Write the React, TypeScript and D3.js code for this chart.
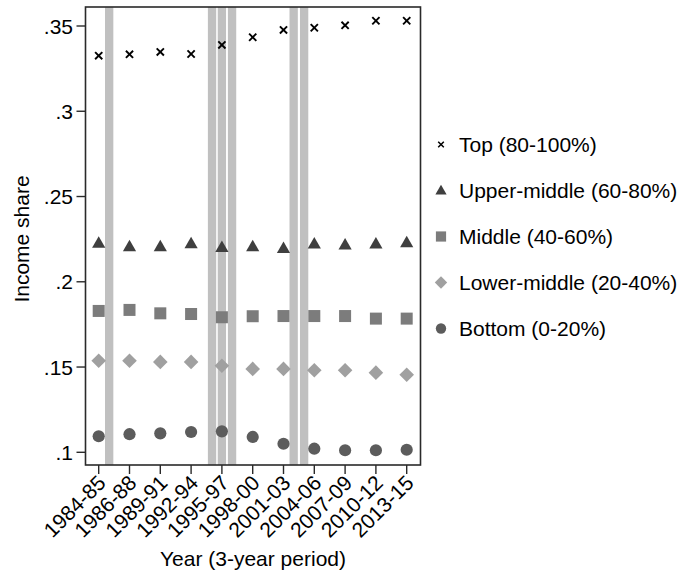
import React from "react";
import * as d3 from "d3";

const periods = ["1984-85","1986-88","1989-91","1992-94","1995-97","1998-00","2001-03","2004-06","2007-09","2010-12","2013-15"];
const topShare = [0.3326,0.3334,0.3348,0.3336,0.3389,0.3434,0.3477,0.3490,0.3504,0.3531,0.3531];
const upperMiddleShare = [0.2226,0.2206,0.2206,0.2224,0.2202,0.2206,0.2196,0.2222,0.2216,0.2222,0.2229];
const middleShare = [0.1829,0.1835,0.1815,0.1811,0.1792,0.1798,0.1799,0.1799,0.1799,0.1784,0.1784];
const lowerMiddleShare = [0.1537,0.1537,0.1530,0.1530,0.1508,0.1489,0.1489,0.1481,0.1481,0.1467,0.1455];
const bottomShare = [0.1094,0.1106,0.1111,0.1119,0.1123,0.1090,0.1050,0.1021,0.1012,0.1012,0.1015];
const shadeAt = [1.34, 4.68, 5.0, 5.33, 7.33, 7.67];
const yTicks = [0.1, 0.15, 0.2, 0.25, 0.3, 0.35];
const yTickLabels = [".1", ".15", ".2", ".25", ".3", ".35"];
const seriesNames = ["Top (80-100%)","Upper-middle (60-80%)","Middle (40-60%)","Lower-middle (20-40%)","Bottom (0-20%)"];

const FONT = "'Liberation Sans', Arial, Helvetica, sans-serif";

type Sym = "cross" | "triangle" | "square" | "diamond" | "circle";
const series: { name: string; values: number[]; sym: Sym; color: string }[] = [
  { name: seriesNames[0], values: topShare, sym: "cross", color: "#000000" },
  { name: seriesNames[1], values: upperMiddleShare, sym: "triangle", color: "#3f3f3f" },
  { name: seriesNames[2], values: middleShare, sym: "square", color: "#7c7c7c" },
  { name: seriesNames[3], values: lowerMiddleShare, sym: "diamond", color: "#a0a0a0" },
  { name: seriesNames[4], values: bottomShare, sym: "circle", color: "#5c5c5c" },
];

function Marker({ sym, x, y, color, scale = 1 }: { sym: Sym; x: number; y: number; color: string; scale?: number }) {
  const s = scale;
  if (sym === "cross") {
    const h = 3.6 * s;
    return (
      <g stroke={color} strokeWidth={1.9 * s} strokeLinecap="butt">
        <line x1={x - h} y1={y - h} x2={x + h} y2={y + h} />
        <line x1={x - h} y1={y + h} x2={x + h} y2={y - h} />
      </g>
    );
  }
  if (sym === "triangle") {
    const w = 6.6 * s, ht = 11.5 * s;
    return <path d={`M${x},${y - ht * 0.6}L${x + w},${y + ht * 0.4}L${x - w},${y + ht * 0.4}Z`} fill={color} />;
  }
  if (sym === "square") {
    const h = 6 * s;
    return <rect x={x - h} y={y - h} width={2 * h} height={2 * h} fill={color} />;
  }
  if (sym === "diamond") {
    const h = 7.3 * s;
    return <path d={`M${x},${y - h}L${x + h},${y}L${x},${y + h}L${x - h},${y}Z`} fill={color} />;
  }
  return <circle cx={x} cy={y} r={6.1 * s} fill={color} />;
}

export default function App() {
  const W = 681, H = 573;
  const left = 85.5, right = 420.5, top = 7, bottom = 465;
  const x = d3.scaleLinear().domain([1, 11]).range([98.7, 406.7]);
  const y = d3.scaleLinear().domain([0.1, 0.35]).range([452.3, 26]);
  const shadeW = x(1.27) - x(1);
  const legendY = d3.scaleLinear().domain([0, 4]).range([144.5, 328.5]);

  return (
    <svg width={W} height={H} style={{ position: "absolute", left: 0, top: 0, background: "#fff" }} fontFamily={FONT}>
      <rect x={0} y={0} width={W} height={H} fill="#fff" />
      {shadeAt.map((v, i) => (
        <rect key={"s" + i} x={x(v) - shadeW / 2} y={top} width={shadeW} height={bottom - top} fill="#c0c0c0" />
      ))}
      {series.map((s) =>
        s.values.map((v, i) => (
          <Marker key={s.name + i} sym={s.sym} x={x(i + 1)} y={y(v)} color={s.color} />
        ))
      )}
      <rect x={left} y={top} width={right - left} height={bottom - top} fill="none" stroke="#2a2a2a" strokeWidth={1.6} />
      {yTicks.map((t, i) => (
        <g key={"yt" + i}>
          <line x1={left - 9} x2={left} y1={y(t)} y2={y(t)} stroke="#2a2a2a" strokeWidth={1.4} />
          <text x={left - 12.5} y={y(t)} dy="0.36em" textAnchor="end" fontSize={21} fill="#000">{yTickLabels[i]}</text>
        </g>
      ))}
      {periods.map((p, i) => (
        <g key={"xt" + i}>
          <line x1={x(i + 1)} x2={x(i + 1)} y1={bottom} y2={bottom + 9} stroke="#2a2a2a" strokeWidth={1.4} />
          <text transform={`translate(${x(i + 1) + 3},${bottom + 14}) rotate(-45)`} dy="0.36em" textAnchor="end" fontSize={21} fill="#000">{p}</text>
        </g>
      ))}
      <text transform={`translate(28.5,239) rotate(-90)`} textAnchor="middle" fontSize={21} fill="#000">Income share</text>
      <text x={(left + right) / 2} y={566} textAnchor="middle" fontSize={21} fill="#000">Year (3-year period)</text>
      {series.map((s, i) => (
        <g key={"lg" + i}>
          <Marker sym={s.sym} x={441} y={legendY(i)} color={s.color} scale={s.sym === "cross" ? 0.78 : 0.85} />
          <text x={459} y={legendY(i)} dy="0.36em" fontSize={21} fill="#000">{s.name}</text>
        </g>
      ))}
    </svg>
  );
}
